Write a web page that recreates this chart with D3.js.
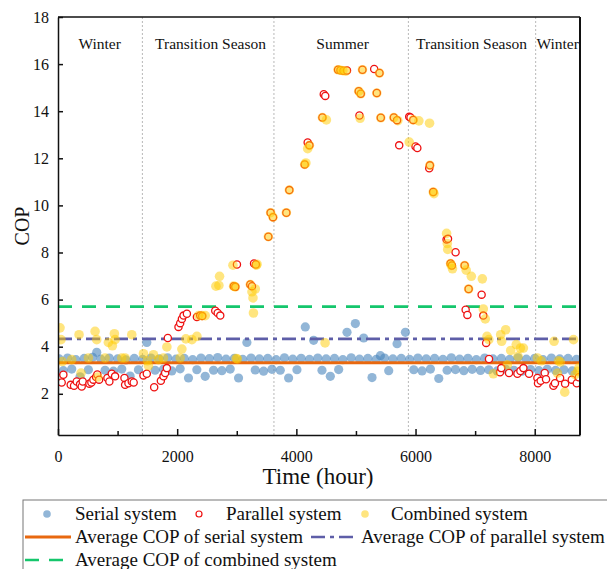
<!DOCTYPE html>
<html>
<head>
<meta charset="utf-8">
<script src="https://cdn.jsdelivr.net/npm/d3@7"></script>
<style>
  body { margin: 0; background: #fff; }
  svg text { font-family: "Liberation Serif", "Times New Roman", serif; fill: #111; }
</style>
</head>
<body>
<svg id="chart" width="607" height="569"></svg>
<script>
// Serial system (blue dots)
const serialHours = [20, 90, 160, 230, 300, 370, 440, 510, 580, 650, 720, 790, 860, 930, 1000, 1070, 1140, 1210, 1280, 1350,
  1420, 1490, 1560, 1630, 1700, 1770, 1840, 1910, 1980, 2050, 2120, 2190, 2260, 2330, 2400, 2470, 2540, 2610, 2680, 2750,
  2820, 2890, 2960, 3030, 3100, 3170, 3240, 3310, 3380, 3450, 3520, 3590, 3660, 3730, 3800, 3870, 3940, 4010, 4080, 4150,
  4220, 4290, 4360, 4430, 4500, 4570, 4640, 4710, 4780, 4850, 4920, 4990, 5060, 5130, 5200, 5270, 5340, 5410, 5480, 5550,
  5620, 5690, 5760, 5830, 5900, 5970, 6040, 6110, 6180, 6250, 6320, 6390, 6460, 6530, 6600, 6670, 6740, 6810, 6880, 6950,
  7020, 7090, 7160, 7230, 7300, 7370, 7440, 7510, 7580, 7650, 7720, 7790, 7860, 7930, 8000, 8070, 8140, 8210, 8280, 8350,
  8420, 8490, 8560, 8630, 8700];
const serialCOP = [3.48, 2.98, 3.52, 3.05, 3.45, 2.72, 3.50, 3.02, 3.55, 3.76, 3.47, 3.00, 3.52, 2.96, 3.48, 3.05, 3.44, 2.75, 3.50, 3.02,
  3.46, 4.18, 3.52, 3.00, 3.48, 3.04, 3.53, 2.97, 3.47, 3.06, 3.50, 2.67, 3.45, 3.02, 3.52, 2.74, 3.49, 3.00, 3.54, 2.98,
  3.47, 3.05, 3.51, 2.67, 3.46, 4.18, 3.52, 3.01, 3.48, 2.96, 3.50, 3.04, 3.45, 3.00, 3.53, 2.67, 3.47, 3.02, 3.51, 4.84,
  3.46, 4.27, 3.52, 3.00, 3.48, 2.74, 3.50, 3.03, 3.45, 4.61, 3.53, 4.98, 3.47, 4.37, 3.50, 2.69, 3.46, 3.62, 3.52, 2.98,
  3.48, 4.13, 3.50, 4.61, 3.46, 3.02, 3.52, 2.97, 3.48, 3.05, 3.50, 2.65, 3.46, 3.00, 3.53, 3.03, 3.47, 2.98, 3.51, 3.04,
  3.45, 2.99, 3.52, 3.02, 3.48, 2.97, 3.50, 3.05, 3.46, 3.00, 3.53, 2.96, 3.47, 3.03, 3.51, 2.98, 3.45, 3.04, 3.52, 2.99,
  3.48, 3.02, 3.50, 2.97, 3.46];

// Parallel system (red open circles)
const parallelHours = [34, 62, 90, 213, 269, 314, 370, 398, 415, 527, 560, 593, 639, 660, 690, 829, 862, 902, 958, 1115,
  1126, 1182, 1238, 1270, 1434, 1490, 1614, 1726, 1770, 1798, 1827, 1843,
  2022, 2050, 2079, 2107, 2163, 2331, 2387, 2420, 2639, 2680, 2723, 2950, 2975, 3003, 3227, 3255, 3290, 3320, 3530, 3568, 3608,
  3832, 3882, 4140, 4190, 4219, 4437, 4460, 4485, 4700, 4740, 4790, 4850, 5047, 5059, 5081, 5109, 5306, 5350, 5395, 5417,
  5636, 5690, 5726, 5894, 5916, 5961, 6000, 6030,
  6230, 6241, 6297, 6521, 6545, 6588, 6610, 6672, 6824, 6841, 6870, 6891, 7109, 7137, 7185, 7233,
  7418, 7440, 7569, 7710, 7760, 7810, 7905, 8045, 8055, 8100, 8168, 8190, 8314, 8340, 8426, 8510, 8622, 8706, 8740];
const parallelCOP = [2.67, 2.48, 2.81, 2.38, 2.34, 2.52, 2.40, 2.31, 2.52, 2.43, 2.48, 2.60, 2.71, 2.82, 2.60, 2.67, 2.52, 2.85, 2.74, 2.67,
  2.38, 2.45, 2.52, 2.48, 2.78, 2.85, 2.28, 2.55, 2.74, 2.88, 3.09, 4.37,
  4.84, 5.00, 5.18, 5.32, 5.40, 5.26, 5.32, 5.30, 5.53, 5.43, 5.32, 6.57, 6.54, 7.49, 6.64, 6.57, 7.53, 7.49, 8.67, 9.69, 9.50,
  9.69, 10.65, 11.74, 12.67, 12.55, 13.73, 14.72, 14.65, 15.76, 15.74, 15.72, 15.73, 14.85, 13.82, 14.74, 15.76, 15.79, 14.77, 15.62, 13.72,
  13.73, 13.62, 12.55, 13.76, 13.73, 13.63, 12.50, 12.44,
  11.58, 11.70, 10.57, 8.55, 8.58, 7.53, 7.45, 8.01, 7.45, 5.57, 5.35, 6.45, 6.21, 5.32, 4.16, 3.48,
  2.91, 3.09, 2.88, 2.85, 2.97, 3.09, 2.85, 2.67, 2.45, 2.55, 2.88, 2.62, 2.34, 2.45, 2.67, 2.43, 2.60, 2.45, 2.70];

// Combined system (yellow dots)
const combinedHours = [34, 50, 73, 230, 353, 387, 510, 622, 650, 667, 790, 845, 913, 946, 958, 1070, 1126, 1238, 1434, 1500,
  1518, 1602, 1686, 1770, 1827, 2050, 2079, 2146, 2247, 2331, 2359, 2415, 2471,
  2650, 2700, 2711, 2936, 2947, 2975, 2990, 3010, 3227, 3255, 3272, 3280, 3311, 3328, 3340, 3530, 3568, 3608,
  3832, 3882, 4140, 4160, 4190, 4219, 4437, 4482, 4504, 4700, 4740, 4780, 4830, 5047, 5070, 5081, 5109, 5350, 5395, 5417,
  5636, 5703, 5894, 5961, 6056, 6235,
  6241, 6297, 6310, 6521, 6533, 6540, 6588, 6600, 6620, 6824, 6850, 6891, 6936, 7121, 7137, 7170, 7200, 7230,
  7306, 7429, 7445, 7513, 7541, 7597, 7690, 7720, 7760, 7810, 8045, 8110, 8325, 8381, 8400, 8430, 8504, 8651, 8678, 8720, 8740];
const combinedCOP = [4.80, 4.30, 3.37, 3.45, 4.51, 2.88, 3.52, 4.65, 4.30, 2.71, 3.52, 4.18, 4.04, 4.55, 4.30, 3.52, 3.52, 4.51, 3.70, 3.40,
  3.19, 3.66, 3.45, 3.52, 3.99, 3.52, 3.90, 4.33, 4.30, 4.44, 5.32, 5.32, 5.32,
  6.57, 6.60, 6.99, 7.46, 6.57, 6.54, 3.50, 3.48, 6.64, 6.33, 6.07, 5.43, 6.45, 7.46, 7.50, 8.67, 9.69, 9.50,
  9.69, 10.65, 11.74, 11.80, 12.41, 12.55, 13.73, 4.16, 13.63, 15.76, 15.74, 15.72, 15.70, 14.85, 13.70, 14.74, 15.76, 14.77, 15.62, 13.72,
  13.73, 13.60, 12.69, 13.63, 13.59, 13.49,
  11.70, 10.57, 10.50, 8.81, 8.38, 8.13, 7.53, 7.45, 7.31, 7.45, 7.25, 6.45, 6.99, 6.88, 5.60, 5.18, 4.44, 4.30,
  2.85, 4.51, 4.23, 4.72, 3.23, 3.84, 4.09, 3.59, 3.94, 3.94, 3.52, 3.40, 4.23, 2.88, 3.40, 3.35, 2.07, 4.30, 2.81, 2.95, 3.10];

// Averages and annotation
const averageNames = ["Average COP of serial system", "Average COP of parallel system", "Average COP of combined system"];
const averageCOP = [3.32, 4.33, 5.70];
const seasonBounds = [1416, 3624, 5880, 8016];
const seasonNames = ["Winter", "Transition Season", "Summer", "Transition Season", "Winter"];
const seasonLabelHours = [700, 2560, 4775, 6940, 8030];
const xTicks = [0, 2000, 4000, 6000, 8000];
const yTicks = [2, 4, 6, 8, 10, 12, 14, 16, 18];

const serifFont = "'Liberation Serif', 'Times New Roman', serif";
const svg = d3.select("#chart");
const margin = {left: 58, right: 27, top: 17, bottom: 134};
const W = 607, H = 569;

const x = d3.scaleLinear().domain([0, 8760]).range([margin.left, W - margin.right]);
const y = d3.scaleLinear().domain([0.25, 18]).range([H - margin.bottom, margin.top]);

svg.append("defs").append("clipPath").attr("id", "plotClip")
  .append("rect")
  .attr("x", x(0)).attr("y", y(18))
  .attr("width", x(8760) - x(0)).attr("height", y(0.25) - y(18));

const plot = svg.append("g").attr("clip-path", "url(#plotClip)");

// season separators
plot.selectAll(".season-line").data(seasonBounds).join("line")
  .attr("x1", d => x(d)).attr("x2", d => x(d))
  .attr("y1", y(18)).attr("y2", y(0.25))
  .attr("stroke", "#b8b8b8").attr("stroke-width", 1)
  .attr("stroke-dasharray", "2,2");

plot.selectAll(".season-label").data(seasonNames).join("text")
  .attr("x", (d, i) => x(seasonLabelHours[i]))
  .attr("y", 49)
  .attr("text-anchor", (d, i) => i == 4 ? "start" : "middle")
  .attr("font-size", "15.5px")
  .text(d => d);

// average lines
const avgStyle = [
  {color: "#e8680f", dash: null, width: 3},
  {color: "#5e5ea8", dash: "14,5,4,5", width: 2.6},
  {color: "#15c66c", dash: "14,10", width: 2.6}
];

const serial = serialHours.map((h, i) => ({h: h, v: serialCOP[i]}));
const parallel = parallelHours.map((h, i) => ({h: h, v: parallelCOP[i]}));
const combined = combinedHours.map((h, i) => ({h: h, v: combinedCOP[i]}));

plot.append("g").selectAll("circle").data(serial).join("circle")
  .attr("cx", d => x(d.h)).attr("cy", d => y(d.v)).attr("r", 4.6)
  .attr("fill", "#4a86bc").attr("fill-opacity", 0.6);

plot.append("g").selectAll("line").data(averageCOP).join("line")
  .attr("x1", x(0)).attr("x2", x(8760))
  .attr("y1", d => y(d)).attr("y2", d => y(d))
  .attr("stroke", (d, i) => avgStyle[i].color)
  .attr("stroke-width", (d, i) => avgStyle[i].width)
  .attr("stroke-dasharray", (d, i) => avgStyle[i].dash);

plot.append("g").selectAll("circle").data(parallel).join("circle")
  .attr("cx", d => x(d.h)).attr("cy", d => y(d.v)).attr("r", 3.6)
  .attr("fill", "#fff").attr("stroke", "#ee1111").attr("stroke-width", 1.3);

plot.append("g").selectAll("circle").data(combined).join("circle")
  .attr("cx", d => x(d.h)).attr("cy", d => y(d.v)).attr("r", 4.8)
  .attr("fill", "#ffcc00").attr("fill-opacity", 0.5);

// axes, ticks pointing inward
const xAxisG = svg.append("g")
  .attr("transform", `translate(0,${y(0.25)})`)
  .call(d3.axisBottom(x).tickValues(xTicks).tickFormat(d3.format("d"))
    .tickSizeInner(-6).tickSizeOuter(0).tickPadding(16));
svg.append("g")
  .attr("transform", `translate(0,${y(0.25)})`)
  .call(d3.axisBottom(x).tickValues([1000, 3000, 5000, 7000]).tickSizeInner(-4).tickSizeOuter(0).tickFormat(""))
  .select(".domain").remove();

const yAxisG = svg.append("g")
  .attr("transform", `translate(${x(0)},0)`)
  .call(d3.axisLeft(y).tickValues(yTicks).tickSizeInner(-5).tickSizeOuter(0).tickPadding(9));

[xAxisG, yAxisG].forEach(g => g.attr("font-family", null).attr("font-size", null));
svg.selectAll(".tick text")
  .style("font-family", serifFont)
  .style("font-size", "16px")
  .attr("fill", "#111");
svg.selectAll(".domain, .tick line").attr("stroke", "#111").attr("stroke-width", 1.5);

// frame top and right
svg.append("line").attr("x1", x(0)).attr("x2", x(8760)).attr("y1", y(18)).attr("y2", y(18))
  .attr("stroke", "#111").attr("stroke-width", 1.5);
svg.append("line").attr("x1", x(8760)).attr("x2", x(8760)).attr("y1", y(18)).attr("y2", y(0.25))
  .attr("stroke", "#111").attr("stroke-width", 2);

svg.append("text").attr("x", 318).attr("y", 484).attr("text-anchor", "middle")
  .attr("font-size", "23px").text("Time (hour)");
svg.append("text").attr("transform", "translate(29,226) rotate(-90)").attr("text-anchor", "middle")
  .attr("font-size", "20px").text("COP");

// legend
const lg = svg.append("g");
lg.append("rect").attr("x", 23).attr("y", 500).attr("width", 620).attr("height", 90)
  .attr("fill", "none").attr("stroke", "#777").attr("stroke-width", 1);

const legendFont = "19px";
lg.append("circle").attr("cx", 47).attr("cy", 514).attr("r", 3.8).attr("fill", "#4a86bc").attr("fill-opacity", 0.6);
lg.append("text").attr("x", 75).attr("y", 520).attr("font-size", legendFont).text("Serial system");
lg.append("circle").attr("cx", 199).attr("cy", 514).attr("r", 3).attr("fill", "#fff")
  .attr("stroke", "#ee1111").attr("stroke-width", 1.2);
lg.append("text").attr("x", 226).attr("y", 520).attr("font-size", legendFont).text("Parallel system");
lg.append("circle").attr("cx", 365).attr("cy", 514).attr("r", 3.8).attr("fill", "#ffcc00").attr("fill-opacity", 0.5);
lg.append("text").attr("x", 391).attr("y", 520).attr("font-size", legendFont).text("Combined system");

const avgLegend = [
  {x1: 25, x2: 71, tx: 75, ty: 543},
  {x1: 311, x2: 357, tx: 361, ty: 543},
  {x1: 25, x2: 71, tx: 75, ty: 566}
];
averageNames.forEach((name, i) => {
  const p = avgLegend[i];
  lg.append("line").attr("x1", p.x1).attr("x2", p.x2).attr("y1", p.ty - 6).attr("y2", p.ty - 6)
    .attr("stroke", avgStyle[i].color).attr("stroke-width", avgStyle[i].width)
    .attr("stroke-dasharray", avgStyle[i].dash);
  lg.append("text").attr("x", p.tx).attr("y", p.ty).attr("font-size", legendFont).text(name);
});
</script>
</body>
</html>
